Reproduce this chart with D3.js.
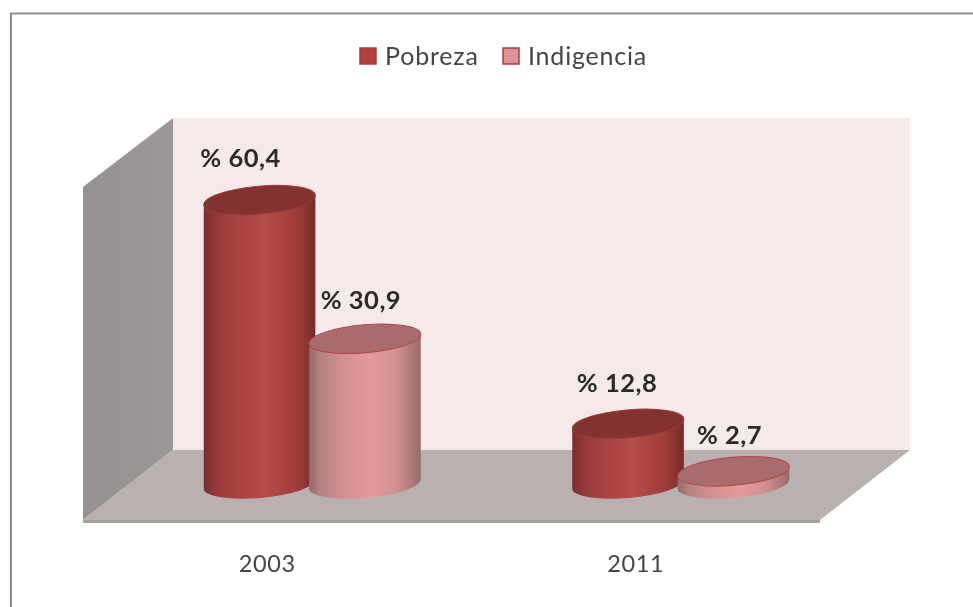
<!DOCTYPE html>
<html>
<head>
<meta charset="utf-8">
<script src="https://cdn.jsdelivr.net/npm/d3@7"></script>
<style>
  html, body { margin: 0; background: #fff; }
  svg { display: block; font-family: Lato, "Open Sans", sans-serif; }
</style>
</head>
<body>
<svg id="chart" width="973" height="607"></svg>
<script>
const categories = ["2003", "2011"];
const seriesNames = ["Pobreza", "Indigencia"];
const pobreza = [60.4, 12.8];
const indigencia = [30.9, 2.7];
const valueLabels = [["% 60,4", "% 12,8"], ["% 30,9", "% 2,7"]];

// label nudges relative to the top of each cylinder [dx, dy]
const labelNudge = [[[-19, -33], [-11, -32]], [[-4, -30], [-4, -27]]];

const svg = d3.select("#chart");
const floor = { x0: 83, x1: 820, y: 520, depthX: 90, depthY: 70 };
const wallTop = 118;
const rx = 56, ry = 14, tilt = -5;

const x = d3.scaleBand().domain(categories).range([floor.x0, floor.x1]);
const inner = d3.scalePoint().domain(seriesNames).range([-52.7, 52.7]);
const y = d3.scaleLinear().domain([0, 70]).range([484, 155]);

const defs = svg.append("defs");
function hGradient(id, stops) {
  const g = defs.append("linearGradient").attr("id", id);
  stops.forEach((s) => g.append("stop").attr("offset", s[0]).attr("stop-color", s[1]));
}
hGradient("bodyPobreza", [
  [0, "#772e2c"], [0.1, "#93393a"], [0.3, "#a94340"], [0.55, "#b44c48"],
  [0.78, "#a5403d"], [0.92, "#8c3431"], [1, "#722a28"],
]);
hGradient("bodyIndigencia", [
  [0, "#956b6b"], [0.1, "#b58282"], [0.3, "#d48f8f"], [0.55, "#e39c9c"],
  [0.78, "#d29090"], [0.92, "#b07a7a"], [1, "#946a6a"],
]);
hGradient("sideWall", [[0, "#979292"], [1, "#9d9898"]]);
defs.append("filter").attr("id", "soft")
  .append("feGaussianBlur").attr("stdDeviation", 0.6);

// outer frame, only top and left show
svg.append("path")
  .attr("d", "M11,607V13.5H973")
  .attr("fill", "none")
  .attr("stroke", "#8e8e8e")
  .attr("stroke-width", 2);

// walls and floor
const plot = svg.append("g");
const backX = floor.x0 + floor.depthX;
const backRight = floor.x1 + floor.depthX;
const backY = floor.y - floor.depthY;

plot.append("rect")
  .attr("x", backX).attr("y", wallTop)
  .attr("width", backRight - backX).attr("height", backY - wallTop)
  .attr("fill", "#f5e9e9");

plot.append("path")
  .attr("d", d3.line()([[floor.x0, wallTop + floor.depthY - 1], [backX, wallTop], [backX, backY], [floor.x0, floor.y]]) + "Z")
  .attr("fill", "url(#sideWall)");

plot.append("path")
  .attr("d", d3.line()([[backX, backY], [backRight, backY], [floor.x1, floor.y], [floor.x0, floor.y]]) + "Z")
  .attr("fill", "#b9b1af");

plot.append("rect")
  .attr("x", floor.x0).attr("y", floor.y)
  .attr("width", floor.x1 - floor.x0).attr("height", 3)
  .attr("fill", "#a3a0a0");

// cylinders
const depthShift = floor.depthX / 2;
const seriesValues = [pobreza, indigencia];
const seriesStyle = [
  { body: "url(#bodyPobreza)", top: "#84322f", edge: "#9c3d3a" },
  { body: "url(#bodyIndigencia)", top: "#a96c6c", edge: "#b04646" },
];
const a = (tilt * Math.PI) / 180;
const ex = rx * Math.cos(a), ey = rx * Math.sin(a);

seriesNames.forEach((name, s) => {
  const style = seriesStyle[s];
  categories.forEach((cat, c) => {
    const v = seriesValues[s][c];
    const cx = x(cat) + x.bandwidth() / 2 + depthShift + inner(name);
    const base = y(0), top = y(v);
    const g = plot.append("g").attr("transform", `translate(${cx},0)`);
    g.append("path")
      .attr("d", `M${-ex},${top - ey}L${-ex},${base - ey}` +
        `A${rx},${ry} ${tilt} 0 0 ${ex},${base + ey}L${ex},${top + ey}Z`)
      .attr("fill", style.body);
    g.append("ellipse")
      .attr("rx", rx).attr("ry", ry)
      .attr("transform", `translate(0,${top}) rotate(${tilt})`)
      .attr("fill", style.top)
      .attr("stroke", style.edge)
      .attr("stroke-width", 1);
    svg.append("text")
      .attr("x", cx + labelNudge[s][c][0])
      .attr("y", top + labelNudge[s][c][1])
      .attr("text-anchor", "middle")
      .attr("font-size", 25.5)
      .attr("font-weight", 700)
      .attr("letter-spacing", 0.5)
      .attr("fill", "#2a2a2a")
      .text(valueLabels[s][c]);
  });
});

// category axis
const axis = svg.append("g")
  .attr("transform", "translate(0,555)")
  .call(d3.axisBottom(x).tickSize(0).tickPadding(0));
axis.select(".domain").remove();
axis.selectAll("text")
  .attr("font-family", "Lato, sans-serif")
  .attr("font-size", 23.5)
  .attr("fill", "#444")
  .attr("letter-spacing", 0.6);

// legend
const legendX = d3.scaleOrdinal().domain(seriesNames).range([360, 503]);
const legendFill = ["#b0403d", "#dd9393"];
const legendEdge = ["#a33a38", "#a83e3e"];
const legend = svg.append("g");
seriesNames.forEach((name, s) => {
  legend.append("rect")
    .attr("x", legendX(name)).attr("y", 48)
    .attr("width", 16).attr("height", 16)
    .attr("fill", legendFill[s])
    .attr("stroke", legendEdge[s])
    .attr("stroke-width", 1.5);
  legend.append("text")
    .attr("x", legendX(name) + 25).attr("y", 65)
    .attr("font-size", 25)
    .attr("fill", "#444")
    .attr("letter-spacing", 0.8)
    .text(name);
});

svg.selectAll("text").attr("filter", "url(#soft)");
</script>
</body>
</html>
